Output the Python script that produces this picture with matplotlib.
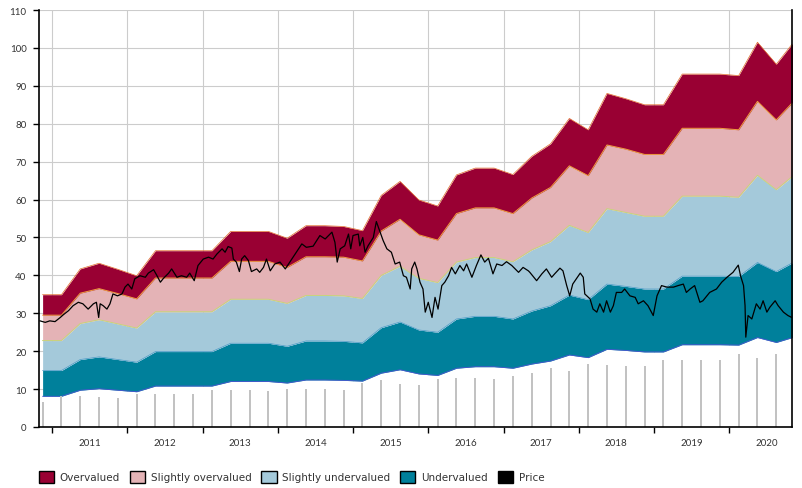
import matplotlib
matplotlib.use("Agg")
import matplotlib.pyplot as plt
from matplotlib.patches import Patch

# ---------------- data ----------------
quarter_t = [2010.875,
             2011.125, 2011.375, 2011.625, 2011.875,
             2012.125, 2012.375, 2012.625, 2012.875,
             2013.125, 2013.375, 2013.625, 2013.875,
             2014.125, 2014.375, 2014.625, 2014.875,
             2015.125, 2015.375, 2015.625, 2015.875,
             2016.125, 2016.375, 2016.625, 2016.875,
             2017.125, 2017.375, 2017.625, 2017.875,
             2018.125, 2018.375, 2018.625, 2018.875,
             2019.125, 2019.375, 2019.625, 2019.875,
             2020.125, 2020.375, 2020.625, 2020.875]

# band boundaries (bottom to top)
undervalued_low = [8.1, 8.1, 9.7, 10.1, 9.7, 9.3, 10.8, 10.8, 10.8, 10.8, 12.0, 12.0, 12.0, 11.6,
                   12.4, 12.4, 12.3, 12.1, 14.2, 15.1, 14.0, 13.6, 15.5, 15.9, 15.9, 15.5, 16.6,
                   17.4, 19.0, 18.3, 20.5, 20.2, 19.8, 19.8, 21.7, 21.7, 21.7, 21.6, 23.6, 22.3, 23.8]
undervalued_high = [14.9, 14.9, 17.8, 18.5, 17.8, 17.1, 19.9, 19.9, 19.9, 19.9, 22.1, 22.1, 22.1, 21.3,
                    22.7, 22.7, 22.6, 22.2, 26.2, 27.7, 25.6, 25.0, 28.5, 29.2, 29.2, 28.5, 30.6,
                    32.0, 34.8, 33.6, 37.7, 37.1, 36.4, 36.4, 39.8, 39.8, 39.8, 39.7, 43.4, 41.0, 43.7]
slightly_under_high = [22.8, 22.8, 27.3, 28.3, 27.2, 26.1, 30.4, 30.4, 30.4, 30.4, 33.7, 33.7, 33.7, 32.6,
                       34.7, 34.7, 34.6, 33.9, 40.0, 42.4, 39.2, 38.1, 43.5, 44.7, 44.7, 43.6, 46.7,
                       48.9, 53.2, 51.3, 57.6, 56.6, 55.6, 55.6, 60.9, 60.9, 60.9, 60.6, 66.4, 62.6, 66.7]
slightly_over_high = [29.5, 29.5, 35.3, 36.5, 35.2, 33.8, 39.3, 39.3, 39.3, 39.3, 43.7, 43.7, 43.7, 42.1,
                      44.9, 44.9, 44.8, 43.8, 51.7, 54.8, 50.7, 49.3, 56.3, 57.8, 57.8, 56.3, 60.4,
                      63.2, 68.9, 66.3, 74.4, 73.3, 71.9, 71.9, 78.8, 78.8, 78.8, 78.4, 85.9, 81.0, 86.3]
overvalued_high = [34.9, 34.9, 41.7, 43.2, 41.6, 39.9, 46.5, 46.5, 46.5, 46.5, 51.6, 51.6, 51.6, 49.8,
                   53.1, 53.1, 52.9, 51.8, 61.1, 64.8, 59.9, 58.3, 66.5, 68.3, 68.3, 66.6, 71.4,
                   74.7, 81.4, 78.4, 88.0, 86.6, 85.0, 85.0, 93.1, 93.1, 93.1, 92.7, 101.5, 95.7, 102.0]

# grey quarterly bars
bar_values = [6.7, 8.1, 8.3, 7.9, 7.7, 8.7, 8.8, 8.8, 8.8, 9.8, 9.8, 9.8, 9.5, 10.0, 10.0, 10.0, 9.8,
              11.6, 12.4, 11.3, 11.1, 12.7, 13.0, 12.9, 12.7, 13.5, 14.2, 15.6, 14.8, 16.6, 16.4,
              16.1, 16.1, 17.7, 17.7, 17.7, 17.7, 19.3, 18.2, 19.3, 19.3]

# price line
price_t = [2010.84, 2010.91, 2010.97, 2011.04, 2011.11, 2011.15, 2011.22, 2011.28, 2011.35, 2011.41,
           2011.48, 2011.55, 2011.59, 2011.62, 2011.64, 2011.68, 2011.73, 2011.77, 2011.81, 2011.87,
           2011.93, 2011.97, 2012.01, 2012.06, 2012.10, 2012.17, 2012.24, 2012.28, 2012.35, 2012.39,
           2012.44, 2012.48, 2012.55, 2012.59, 2012.66, 2012.72, 2012.79, 2012.83, 2012.89, 2012.94,
           2013.01, 2013.08, 2013.14, 2013.19, 2013.26, 2013.30, 2013.34, 2013.39, 2013.41, 2013.45,
           2013.49, 2013.52, 2013.56, 2013.61, 2013.65, 2013.72, 2013.76, 2013.81, 2013.85, 2013.90,
           2013.96, 2014.03, 2014.10, 2014.16, 2014.23, 2014.32, 2014.38, 2014.47, 2014.56, 2014.63,
           2014.72, 2014.76, 2014.79, 2014.83, 2014.89, 2014.94, 2014.97, 2015.00, 2015.07, 2015.09,
           2015.13, 2015.16, 2015.20, 2015.27, 2015.31, 2015.36, 2015.40, 2015.45, 2015.51, 2015.56,
           2015.62, 2015.67, 2015.71, 2015.76, 2015.78, 2015.82, 2015.85, 2015.89, 2015.93, 2015.96,
           2016.00, 2016.05, 2016.09, 2016.13, 2016.18, 2016.22, 2016.27, 2016.31, 2016.36, 2016.42,
           2016.47, 2016.51, 2016.58, 2016.64, 2016.70, 2016.75, 2016.80, 2016.86, 2016.91, 2016.98,
           2017.04, 2017.11, 2017.20, 2017.26, 2017.33, 2017.35, 2017.44, 2017.51, 2017.57, 2017.64,
           2017.68, 2017.75, 2017.79, 2017.84, 2017.88, 2017.92, 2018.02, 2018.06, 2018.08, 2018.15,
           2018.19, 2018.24, 2018.28, 2018.33, 2018.37, 2018.42, 2018.46, 2018.50, 2018.57, 2018.61,
           2018.68, 2018.75, 2018.79, 2018.86, 2018.92, 2018.99, 2019.04, 2019.10, 2019.17, 2019.26,
           2019.32, 2019.39, 2019.43, 2019.48, 2019.54, 2019.61, 2019.65, 2019.74, 2019.83, 2019.90,
           2019.97, 2020.05, 2020.12, 2020.15, 2020.19, 2020.21, 2020.22, 2020.25, 2020.30, 2020.36,
           2020.41, 2020.45, 2020.50, 2020.54, 2020.61, 2020.65, 2020.72, 2020.78, 2020.83]
price_v = [28.0, 27.6, 28.0, 27.8, 28.9, 29.6, 30.7, 32.0, 32.9, 32.5,
           31.1, 32.5, 32.9, 28.9, 32.5, 32.0, 31.1, 32.5, 35.1, 34.6,
           35.1, 36.9, 37.7, 36.4, 39.1, 39.9, 39.5, 40.6, 41.5, 40.1,
           38.2, 39.2, 40.6, 41.7, 39.5, 39.9, 39.5, 40.6, 38.6, 42.6,
           44.3, 44.8, 44.3, 45.6, 47.0, 46.1, 47.6, 47.2, 44.3, 43.5,
           41.0, 44.3, 45.2, 43.9, 41.0, 41.7, 40.8, 42.1, 44.3, 41.2,
           43.0, 43.5, 41.7, 43.5, 45.6, 48.3, 47.4, 47.7, 50.5, 49.6,
           51.4, 48.7, 43.5, 47.0, 47.8, 50.9, 47.0, 50.5, 50.9, 47.8,
           50.0, 46.1, 47.8, 50.0, 54.2, 51.4, 49.2, 47.0, 46.1, 43.0,
           43.5, 39.9, 39.5, 36.4, 41.7, 43.5, 41.7, 38.2, 36.4, 30.3,
           32.9, 28.9, 34.2, 31.1, 37.3, 38.2, 39.9, 42.1, 40.4, 42.6,
           41.2, 43.0, 39.5, 42.6, 45.4, 43.5, 44.5, 40.4, 43.0, 42.6,
           43.6, 42.6, 40.8, 42.1, 41.2, 40.8, 38.6, 40.4, 41.7, 39.5,
           40.4, 41.9, 41.2, 37.3, 34.6, 37.7, 40.6, 39.5, 35.1, 33.8,
           31.1, 30.3, 32.5, 30.3, 33.3, 30.3, 32.0, 35.5, 35.5, 36.4,
           34.6, 34.2, 32.5, 33.3, 32.0, 29.4, 34.6, 37.3, 36.9, 36.9,
           37.3, 37.7, 35.5, 36.4, 37.3, 32.9, 33.3, 35.5, 36.4, 38.2,
           39.5, 40.8, 42.7, 39.9, 37.3, 32.0, 23.7, 29.4, 28.5, 32.5,
           31.1, 33.3, 30.3, 31.6, 33.3, 32.0, 30.3, 29.4, 28.9]

year_ticks = [2011, 2012, 2013, 2014, 2015, 2016, 2017, 2018, 2019, 2020]
year_labels = ["2011", "2012", "2013", "2014", "2015", "2016", "2017", "2018", "2019", "2020"]
y_ticks = [0, 10, 20, 30, 40, 50, 60, 70, 80, 90, 100, 110]

legend_labels = ["Overvalued", "Slightly overvalued", "Slightly undervalued", "Undervalued", "Price"]

# ---------------- style ----------------
C_OVER = "#990033"
C_SOVER = "#e4b3b6"
C_SUNDER = "#a4c9da"
C_UNDER = "#00809b"
C_BAR = "#c2c2c2"
TXT = "#333333"

plt.rcParams["font.family"] = ["Lato", "DejaVu Sans"]

fig = plt.figure(figsize=(8.02, 4.89), dpi=100)
ax = fig.add_axes([39 / 802, 1 - 428 / 489, (792 - 39) / 802, (428 - 11) / 489])

ax.set_xlim(2010.827, 2020.834)
ax.set_ylim(0, 110)

ax.set_axisbelow(True)
ax.grid(True, which="major", color="#cccccc", lw=0.8, zorder=0)

ax.fill_between(quarter_t, 0, undervalued_low, color="white", lw=0, zorder=2)
ax.fill_between(quarter_t, undervalued_low, undervalued_high, color=C_UNDER, lw=0, zorder=2)
ax.fill_between(quarter_t, undervalued_high, slightly_under_high, color=C_SUNDER, lw=0, zorder=2)
ax.fill_between(quarter_t, slightly_under_high, slightly_over_high, color=C_SOVER, lw=0, zorder=2)
ax.fill_between(quarter_t, slightly_over_high, overvalued_high, color=C_OVER, lw=0, zorder=2)

ax.plot(quarter_t, undervalued_low, color="#4a55d0", lw=0.6, zorder=2.5)
ax.plot(quarter_t, undervalued_high, color="#4d9cc8", lw=0.5, zorder=2.5)
ax.plot(quarter_t, slightly_under_high, color="#c8d47a", lw=0.7, zorder=2.5)
ax.plot(quarter_t, slightly_over_high, color="#f0a040", lw=0.7, zorder=2.5)
ax.plot(quarter_t, overvalued_high, color="#e06a2a", lw=0.5, zorder=2.5)

ax.vlines(quarter_t, 0, bar_values, colors=C_BAR, lw=1.44, zorder=3, antialiased=False)

ax.plot(price_t, price_v, color="black", lw=0.9, zorder=5)

# axes
for s in ["left", "bottom", "right"]:
    ax.spines[s].set_color("black")
    ax.spines[s].set_linewidth(1.2)
    ax.spines[s].set_zorder(6)
ax.spines["top"].set_visible(False)

ax.set_yticks(y_ticks)
ax.set_yticklabels([str(v) for v in y_ticks])
ax.tick_params(axis="y", direction="out", length=4, width=1, color="black",
               labelsize=7, labelcolor=TXT, pad=5)

ax.set_xticks(year_ticks)
ax.set_xticklabels([""] * len(year_ticks))
ax.set_xticks([y + 0.5 for y in year_ticks], minor=True)
ax.set_xticklabels(year_labels, minor=True)
ax.tick_params(axis="x", which="major", direction="out", length=4, width=1, color="black")
ax.tick_params(axis="x", which="minor", length=0, labelsize=7, labelcolor=TXT, pad=8)
ax.grid(False, which="minor")

handles = [Patch(facecolor=C_OVER, edgecolor="black", lw=1.0),
           Patch(facecolor=C_SOVER, edgecolor="black", lw=1.0),
           Patch(facecolor=C_SUNDER, edgecolor="black", lw=1.0),
           Patch(facecolor=C_UNDER, edgecolor="black", lw=1.0),
           Patch(facecolor="black", edgecolor="black", lw=1.0)]
leg = fig.legend(handles, legend_labels, loc="center left", bbox_to_anchor=(39 / 802, 1 - 478 / 489),
                 ncol=5, frameon=False, prop={"family": "DejaVu Sans", "size": 7.5},
                 handlelength=1.45, handleheight=1.45,
                 handletextpad=0.55, columnspacing=0.95, borderpad=0, borderaxespad=0)
for t in leg.get_texts():
    t.set_color(TXT)

fig.savefig("out.png", dpi=100)
